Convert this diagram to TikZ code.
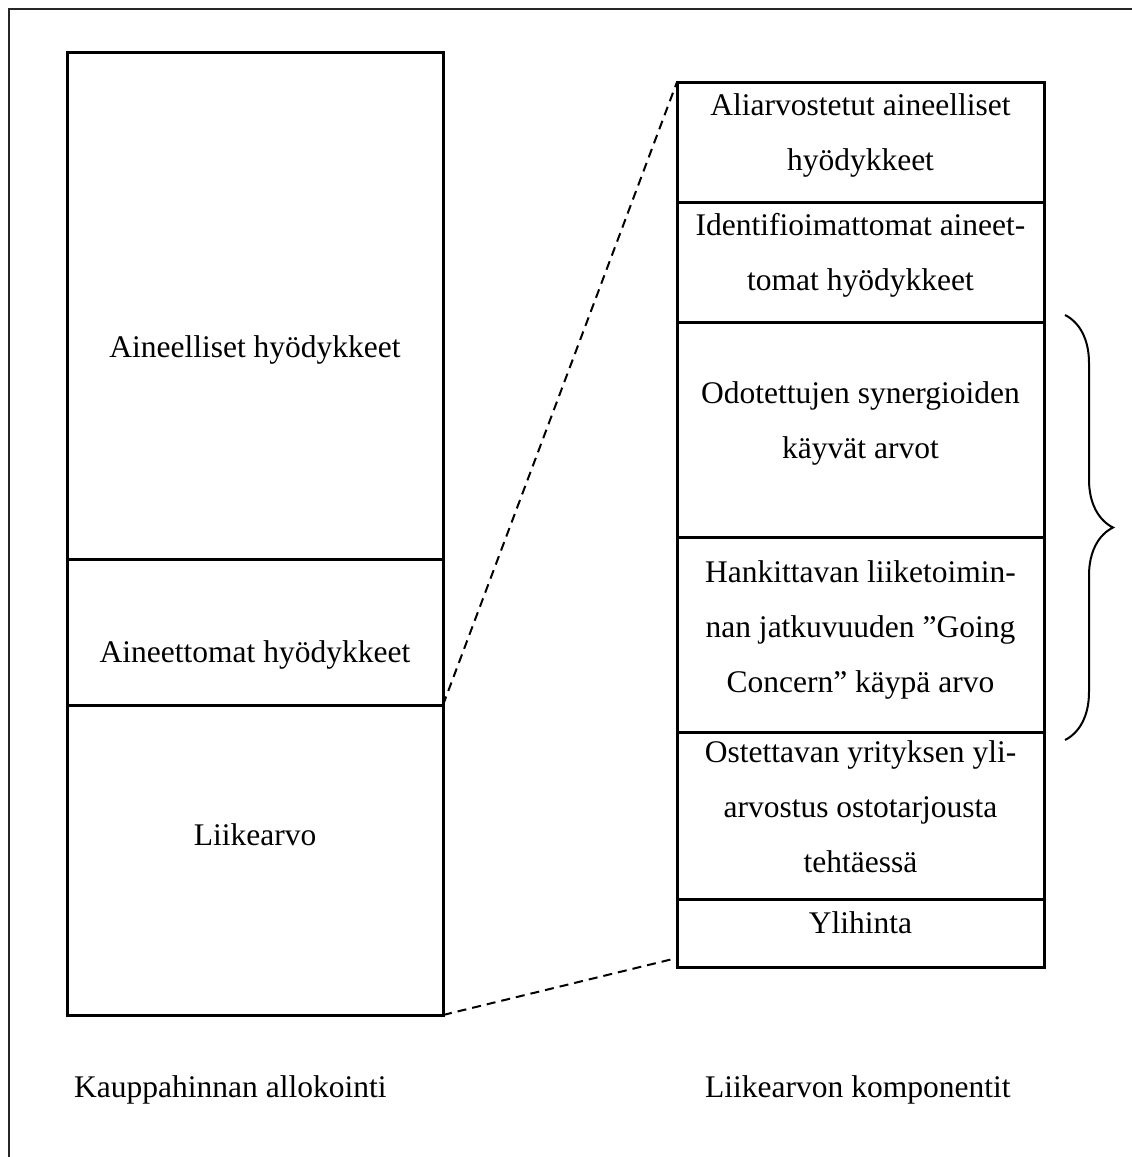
\documentclass[tikz,border=0pt]{standalone}
\usepackage{fontspec}
\setmainfont{Liberation Serif}
\usetikzlibrary{positioning, calc, decorations.pathreplacing}
\tikzset{
  sect/.style      ={draw, line width=3pt, inner sep=0pt, outer sep=0pt},
  leftsect/.style  ={sect, minimum width=376pt},
  rightsect/.style ={sect, minimum width=367pt},
  secttext/.style  ={anchor=base, align=center, inner sep=0pt,
                     font=\fontsize{31.5}{55}\selectfont},
  caption/.style   ={anchor=base west, inner sep=0pt,
                     font=\fontsize{31.5}{55}\selectfont},
  zoomline/.style  ={dashed, dash pattern=on 9pt off 6pt, line width=2pt},
  bracket/.style   ={decorate, decoration={brace, amplitude=48pt},
                     line width=2pt},
  frameline/.style ={line width=2.6pt, draw=black!85},
}

\begin{document}
\begin{tikzpicture}[x=1pt, y=-1pt]

  \useasboundingbox (0,0) rectangle (1132,1157);

  % ============================================================
  % OUTER FRAME (open to the right and bottom)
  % ============================================================
  \draw[frameline] (1132,9) -- (9,9) -- (9,1157);

  % ============================================================
  % LEFT COLUMN: purchase price allocation
  % ============================================================
  \node[leftsect, minimum height=507pt, anchor=north west] (aineelliset) at (67,52) {};
  \node[leftsect, minimum height=146pt, below=0pt of aineelliset] (aineettomat) {};
  \node[leftsect, minimum height=310pt, below=0pt of aineettomat] (liikearvo) {};

  \node[secttext] (t-aineelliset) at ($(aineelliset.north)+(0,305)$) {Aineelliset hyödykkeet};
  \node[secttext] (t-aineettomat) at ($(aineettomat.north)+(0,103)$) {Aineettomat hyödykkeet};
  \node[secttext] (t-liikearvo)   at ($(liikearvo.north)+(0,140)$)   {Liikearvo};

  % ============================================================
  % RIGHT COLUMN: components of goodwill
  % (text nodes sit on the baseline of their last line)
  % ============================================================
  \node[rightsect, minimum height=120pt, anchor=north west] (aliarvo) at (677,82) {};
  \node[rightsect, minimum height=120pt, below=0pt of aliarvo] (identif) {};
  \node[rightsect, minimum height=215pt, below=0pt of identif] (synergiat) {};
  \node[rightsect, minimum height=195pt, below=0pt of synergiat] (goingconcern) {};
  \node[rightsect, minimum height=167pt, below=0pt of goingconcern] (yliarvostus) {};
  \node[rightsect, minimum height=68pt,  below=0pt of yliarvostus] (ylihinta) {};

  \node[secttext] (t-aliarvo) at ($(aliarvo.north)+(0,88)$)
    {Aliarvostetut aineelliset\\hyödykkeet};
  \node[secttext] (t-identif) at ($(identif.north)+(0,88)$)
    {Identifioimattomat aineet-\\tomat hyödykkeet};
  \node[secttext] (t-synergiat) at ($(synergiat.north)+(0,136)$)
    {Odotettujen synergioiden\\käyvät arvot};
  \node[secttext] (t-goingconcern) at ($(goingconcern.north)+(0,155)$)
    {Hankittavan liiketoimin-\\nan jatkuvuuden ”Going\\Concern” käypä arvo};
  \node[secttext] (t-yliarvostus) at ($(yliarvostus.north)+(0,140)$)
    {Ostettavan yrityksen yli-\\arvostus ostotarjousta\\tehtäessä};
  \node[secttext] (t-ylihinta) at ($(ylihinta.north)+(0,34)$) {Ylihinta};

  % ============================================================
  % CAPTIONS
  % ============================================================
  \node[caption] (cap-left)  at (74,1097)  {Kauppahinnan allokointi};
  \node[caption] (cap-right) at (705,1097) {Liikearvon komponentit};

  % ============================================================
  % CONNECTORS
  % ============================================================
  % Zoom lines: goodwill expands into its components
  \coordinate (ylihinta-end) at ($(ylihinta.south west)+(0,-9)$);
  \draw[zoomline] (aineettomat.south east) -- (aliarvo.north west);
  \draw[zoomline] (liikearvo.south east) -- (ylihinta-end);

  % Brace over synergies and going concern
  \coordinate (brace-top) at ($(synergiat.north east)+(21,-7)$);
  \coordinate (brace-bot) at ($(goingconcern.south east)+(21,8)$);
  \draw[bracket] (brace-top) -- (brace-bot);

\end{tikzpicture}
\end{document}
